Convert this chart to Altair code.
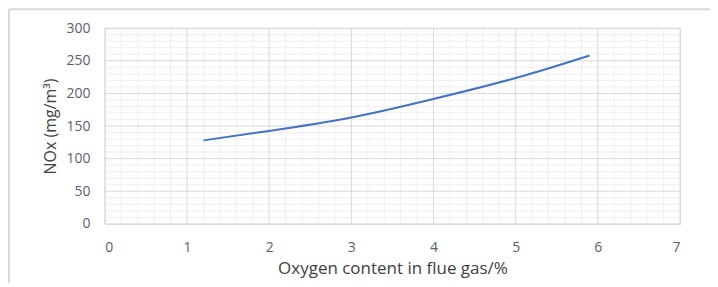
import altair as alt
import pandas as pd

# Data
oxygen = [1.2, 2.0, 3.0, 4.0, 5.0, 5.9]
nox = [128, 142.5, 163, 191.5, 223.5, 258]

x_major = [0, 1, 2, 3, 4, 5, 6, 7]
y_major = [0, 50, 100, 150, 200, 250, 300]
x_minor = [round(i * 0.2, 1) for i in range(36) if i % 5 != 0]
y_minor = [v for v in range(0, 301, 10) if v % 50 != 0]

df = pd.DataFrame({"o2": oxygen, "nox": nox})

FONT = "Open Sans"
xs = alt.Scale(domain=[0, 7], nice=False, zero=False)
ys = alt.Scale(domain=[0, 300], nice=False)

xaxis = alt.Axis(
    values=x_major, title="Oxygen content in flue gas/%", grid=False, ticks=False,
    domain=False, labelPadding=17, labelFontSize=14, labelColor="#595f73",
    labelFont=FONT, titleFont=FONT, titleFontSize=17, titleFontWeight="normal",
    titleColor="#404040", titlePadding=6)
yaxis = alt.Axis(
    values=y_major, title="NOx (mg/m³)", grid=False, ticks=False, domain=False,
    labelPadding=15, labelFontSize=14, labelColor="#595f73", labelFont=FONT,
    titleFont=FONT, titleFontSize=16, titleFontWeight="normal", titleColor="#404040",
    titlePadding=7)

W, H = 576, 196

xminor = alt.Chart(pd.DataFrame({"o2": x_minor})).mark_rule(color="#efefef", strokeWidth=1).encode(
    x=alt.X("o2:Q", scale=xs, axis=xaxis))
yminor = alt.Chart(pd.DataFrame({"nox": y_minor})).mark_rule(color="#efefef", strokeWidth=1).encode(
    y=alt.Y("nox:Q", scale=ys, axis=yaxis))
xmajor = alt.Chart(pd.DataFrame({"o2": x_major})).mark_rule(color="#d9d9d9", strokeWidth=1).encode(
    x=alt.X("o2:Q", scale=xs, axis=xaxis))
ymajor = alt.Chart(pd.DataFrame({"nox": y_major})).mark_rule(color="#d9d9d9", strokeWidth=1).encode(
    y=alt.Y("nox:Q", scale=ys, axis=yaxis))

line = alt.Chart(df).mark_line(color="#4472c4", strokeWidth=2, interpolate="natural").encode(
    x=alt.X("o2:Q", scale=xs, axis=xaxis),
    y=alt.Y("nox:Q", scale=ys, axis=yaxis),
)

# outer chart frame (top and left edges)
frame_top = alt.Chart(pd.DataFrame({"a": [0]})).mark_rule(color="#d9d9d9", strokeWidth=2).encode(
    x=alt.value(-96), x2=alt.value(W + 40), y=alt.value(-19))
frame_left = alt.Chart(pd.DataFrame({"a": [0]})).mark_rule(color="#d9d9d9", strokeWidth=2).encode(
    x=alt.value(-96), y=alt.value(-19), y2=alt.value(H + 70))

chart = alt.layer(xminor, yminor, xmajor, ymajor, line, frame_top, frame_left).properties(
    width=W, height=H,
    autosize=alt.AutoSizeParams(type="none"),
    padding={"left": 97, "top": 20, "right": 30, "bottom": 59},
).configure_view(stroke=None).configure(background="white")

chart.save("out.html", embed_options={"renderer": "svg", "actions": False})
